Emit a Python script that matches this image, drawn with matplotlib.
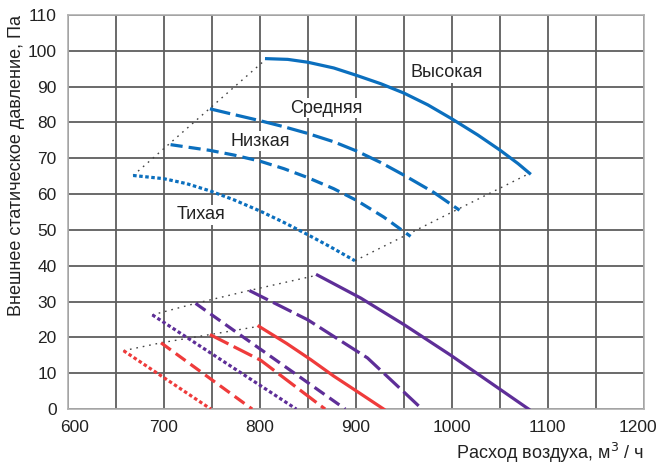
import matplotlib
matplotlib.use("Agg")
import matplotlib.pyplot as plt
import matplotlib.transforms as mtransforms

plt.rcParams['font.family'] = ['Liberation Sans', 'DejaVu Sans']

# Верхняя группа (синие кривые): расход, давление
vys_x = [807, 829, 850, 877, 900, 926, 950, 975, 1000, 1027, 1050, 1069, 1081]
vys_y = [97.8, 97.6, 96.8, 95.2, 93.2, 90.8, 88.2, 84.9, 81.0, 76.5, 72.3, 68.5, 65.8]
sred_x = [748, 773, 800, 825, 849, 877, 901, 926, 950, 981, 1008]
sred_y = [83.8, 82.2, 80.5, 78.8, 77.0, 74.6, 72.0, 68.8, 65.3, 60.5, 55.5]
niz_x = [707, 748, 773, 800, 825, 849, 877, 901, 929, 957]
niz_y = [73.8, 72.2, 70.9, 69.2, 67.1, 64.7, 61.5, 58.2, 53.6, 48.2]
tih_x = [668, 700, 724, 748, 773, 800, 825, 849, 874, 899]
tih_y = [65.2, 64.3, 62.9, 60.9, 58.4, 55.3, 52.1, 48.8, 45.2, 41.4]

# Нижняя группа, фиолетовые
p1_x = [860, 905, 950, 999, 1080]
p1_y = [37.4, 31.0, 23.6, 15.0, 0]
p2_x = [789, 850, 912, 969]
p2_y = [33.1, 24.9, 14.3, 0]
p3_x = [733, 889]
p3_y = [29.5, 0]
p4_x = [688, 838]
p4_y = [26.3, 0]

# Нижняя группа, красные
r1_x = [799, 828, 853, 877, 902, 929]
r1_y = [23.1, 18.3, 13.8, 9.2, 4.8, 0]
r2_x = [748, 801, 868]
r2_y = [20.8, 13.6, 0]
r3_x = [697, 792]
r3_y = [18.5, 0]
r4_x = [658, 749]
r4_y = [16.3, 0]

labels = ['Высокая', 'Средняя', 'Низкая', 'Тихая']
label_x = [995, 869, 800, 739]
label_y = [93.8, 84.0, 74.7, 54.2]

BLUE = '#0B6FBE'
PURPLE = '#5E2E98'
RED = '#EF3B3B'
LW = 2.3

fig = plt.figure(figsize=(6.59, 4.67), dpi=100)
ax = fig.add_axes([0.103, 0.124, 0.874, 0.844])

ax.set_xlim(600, 1200)
ax.set_ylim(0, 110)
ax.set_xticks(range(600, 1201, 100))
ax.set_xticks(range(650, 1200, 100), minor=True)
ax.set_yticks(range(0, 111, 10))
ax.grid(True, which='both', color='#5e5e5e', linewidth=1.3, zorder=0)
ax.tick_params(which='both', length=0, labelsize=12.5, colors='#222222', pad=8)
for s in ax.spines.values():
    s.set_color('#b0b0b0')
    s.set_linewidth(1.2)

# крайние подписи оси X немного внутрь
xt = ax.get_xticklabels()
xt[0].set_transform(xt[0].get_transform() + mtransforms.ScaledTranslation(0.07, 0, fig.dpi_scale_trans))
xt[-1].set_transform(xt[-1].get_transform() + mtransforms.ScaledTranslation(-0.06, 0, fig.dpi_scale_trans))

dash_long = (6.5, 1.8)
dash_mid = (3.8, 1.9)
dash_dot = (1.1, 0.8)

# соединительные пунктиры
dot_kw = dict(color='#444444', linewidth=1.0, dashes=(1.2, 3.5), zorder=2)
ax.plot([tih_x[0], vys_x[0]], [tih_y[0], vys_y[0]], **dot_kw)
ax.plot([tih_x[-1], vys_x[-1]], [tih_y[-1], vys_y[-1]], **dot_kw)
ax.plot([p4_x[0], p3_x[0], p2_x[0], p1_x[0]],
        [p4_y[0], p3_y[0], p2_y[0], p1_y[0]], **dot_kw)
ax.plot([r4_x[0], r3_x[0], r2_x[0], r1_x[0]],
        [r4_y[0], r3_y[0], r2_y[0], r1_y[0]], **dot_kw)

ax.plot(vys_x, vys_y, color=BLUE, lw=LW, zorder=3)
ax.plot(sred_x, sred_y, color=BLUE, lw=LW, dashes=dash_long, zorder=3)
ax.plot(niz_x, niz_y, color=BLUE, lw=LW, dashes=dash_mid, zorder=3)
ax.plot(tih_x, tih_y, color=BLUE, lw=LW, dashes=dash_dot, zorder=3)

ax.plot(p1_x, p1_y, color=PURPLE, lw=LW, zorder=3)
ax.plot(p2_x, p2_y, color=PURPLE, lw=LW, dashes=dash_long, zorder=3)
ax.plot(p3_x, p3_y, color=PURPLE, lw=LW, dashes=dash_mid, zorder=3)
ax.plot(p4_x, p4_y, color=PURPLE, lw=LW, dashes=dash_dot, zorder=3)

ax.plot(r1_x, r1_y, color=RED, lw=LW, zorder=3)
ax.plot(r2_x, r2_y, color=RED, lw=LW, dashes=dash_long, zorder=3)
ax.plot(r3_x, r3_y, color=RED, lw=LW, dashes=dash_mid, zorder=3)
ax.plot(r4_x, r4_y, color=RED, lw=LW, dashes=dash_dot, zorder=3)

for t, x, y in zip(labels, label_x, label_y):
    ax.text(x, y, t, ha='center', va='center', fontsize=13, color='#222222',
            zorder=4, bbox=dict(facecolor='white', edgecolor='none', pad=1))

ax.set_xlabel('Расход воздуха, м$^3$ / ч', loc='right', fontsize=13, color='#222222', labelpad=4)
ax.set_ylabel('Внешнее статическое давление, Па', loc='top', fontsize=13, color='#222222', labelpad=2)

fig.savefig('out.png', dpi=100)
